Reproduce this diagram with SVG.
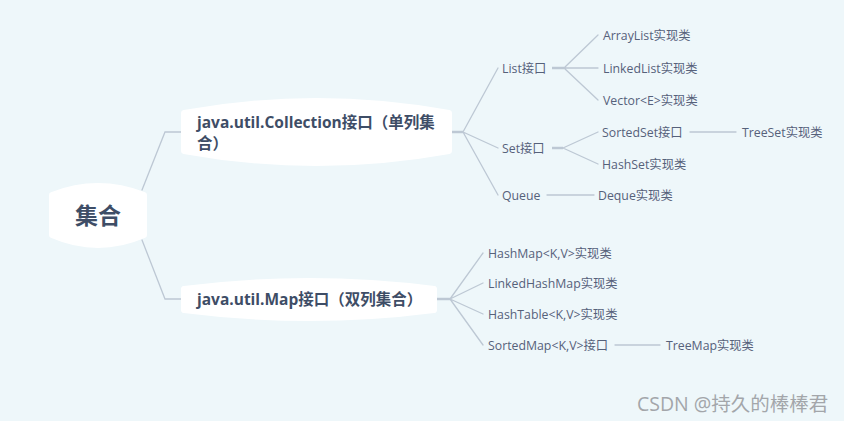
<svg xmlns="http://www.w3.org/2000/svg" width="844" height="421" viewBox="0 0 844 421">
<style>
.bg{fill:#EEF7FA}
.node{fill:#FFFFFF;stroke:#FFFFFF;stroke-width:6;stroke-linejoin:round}
.root{font-family:"Open Sans","Noto Sans CJK SC",sans-serif;font-size:23px;font-weight:bold;fill:#3E4D66}
.main{font-family:"Open Sans","Noto Sans CJK SC",sans-serif;font-size:15.5px;font-weight:bold;fill:#3E4D66}
.leaf{font-family:"Open Sans","Noto Sans CJK SC",sans-serif;font-size:12.3px;fill:#56617A}
.wm{font-family:"Open Sans","Noto Sans CJK SC",sans-serif;font-size:19.5px;fill:#A3A6AA}
.c{fill:none;stroke:#BDC8D4;stroke-width:1.3;stroke-linecap:round}
.ct{fill:none;stroke:#BDC8D4;stroke-width:2.5}
</style>
<rect class="bg" x="0" y="0" width="844" height="421"/>
<g id="connectors">
<path class="c" d="M142,190 L165,132 L181,132"/>
<path class="c" d="M142,240 L165,299 L181,299"/>
<path class="ct" d="M452,132 L463,132"/>
<path class="c" d="M463,132 L498,68 M463,132 L498,148 M463,132 L498,195"/>
<path class="ct" d="M552,68 L564,68"/>
<path class="c" d="M564,68 L598,35 M564,68 L598,68 M564,68 L598,100"/>
<path class="ct" d="M552,148 L563,148"/>
<path class="c" d="M563,148 L598,132 M563,148 L598,164"/>
<path class="c" d="M690,132 L736,132"/>
<path class="c" d="M547,195 L594,195"/>
<path class="ct" d="M437,299 L450,299"/>
<path class="c" d="M450,299 L483,253 M450,299 L483,283 M450,299 L483,314 M450,299 L483,345"/>
<path class="c" d="M615,345 L660,345"/>
</g>
<g id="root">
<path class="node" d="M52,195 Q98,177 144,195 L144,235 Q98,255 52,235 Z"/>
<text class="root" x="98" y="224" text-anchor="middle">集合</text>
</g>
<g id="collection">
<path class="node" d="M184,113 Q316,89 449,113 L449,151 Q316,175 184,151 Z"/>
<text class="main" x="197" y="128">java.util.Collection接口（单列集</text>
<text class="main" x="197" y="149">合）</text>
</g>
<g id="map">
<path class="node" d="M184,289 Q309,273 434,289 L434,310 Q309,326 184,310 Z"/>
<text class="main" x="197" y="305">java.util.Map接口（双列集合）</text>
</g>
<g id="list"><text class="leaf" x="502" y="72.5">List接口</text></g>
<g id="set"><text class="leaf" x="502" y="152.5">Set接口</text></g>
<g id="queue"><text class="leaf" x="502" y="199.5">Queue</text></g>
<g id="arraylist"><text class="leaf" x="603" y="39.5">ArrayList实现类</text></g>
<g id="linkedlist"><text class="leaf" x="603" y="72.5">LinkedList实现类</text></g>
<g id="vector"><text class="leaf" x="603" y="104.5">Vector&lt;E&gt;实现类</text></g>
<g id="sortedset"><text class="leaf" x="602" y="136.5">SortedSet接口</text></g>
<g id="hashset"><text class="leaf" x="602" y="168.5">HashSet实现类</text></g>
<g id="treeset"><text class="leaf" x="742" y="136.5">TreeSet实现类</text></g>
<g id="deque"><text class="leaf" x="598" y="199.5">Deque实现类</text></g>
<g id="hashmap"><text class="leaf" x="488" y="257.5">HashMap&lt;K,V&gt;实现类</text></g>
<g id="linkedhashmap"><text class="leaf" x="488" y="287.5">LinkedHashMap实现类</text></g>
<g id="hashtable"><text class="leaf" x="488" y="318.5">HashTable&lt;K,V&gt;实现类</text></g>
<g id="sortedmap"><text class="leaf" x="488" y="349.5">SortedMap&lt;K,V&gt;接口</text></g>
<g id="treemap"><text class="leaf" x="666" y="349.5">TreeMap实现类</text></g>
<text class="wm" x="637" y="411">CSDN @持久的棒棒君</text>
</svg>
